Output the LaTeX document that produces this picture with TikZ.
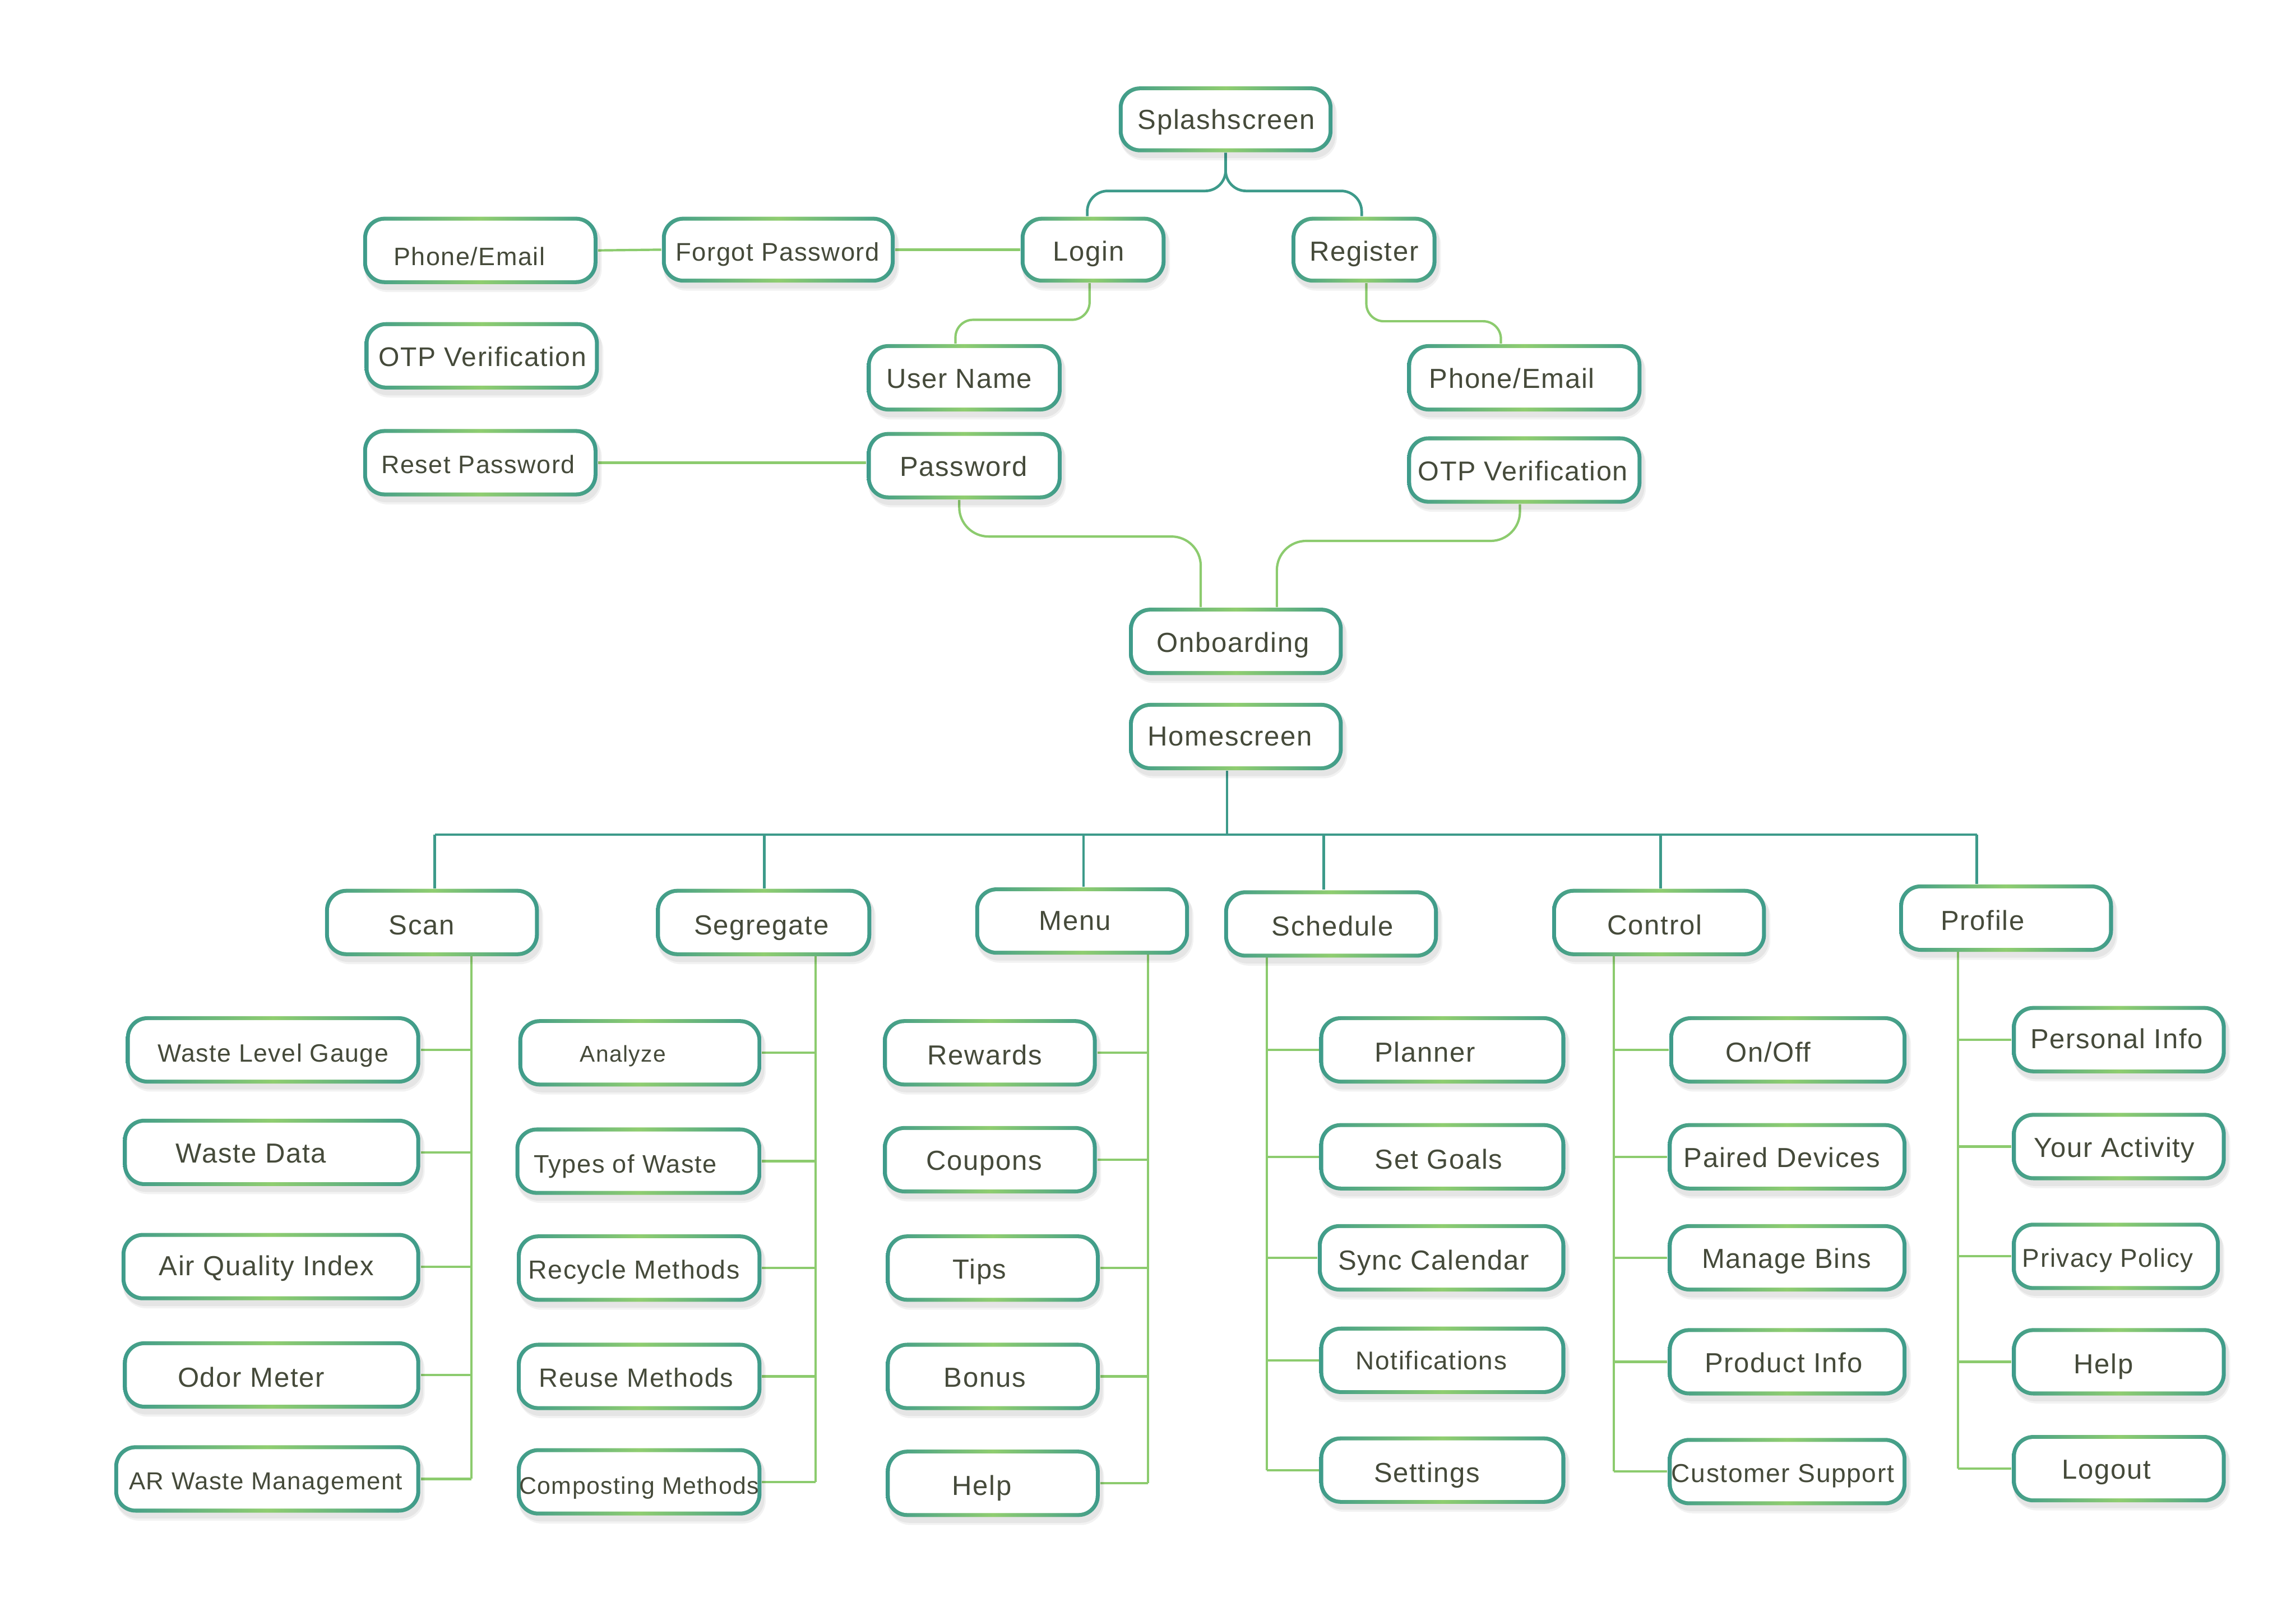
\documentclass[tikz,border=0pt]{standalone}
\usepackage{fontspec}
\setmainfont{Liberation Sans}[LetterSpace=3.4]
\usetikzlibrary{fit,calc}
\definecolor{cteal}{HTML}{3E9B8B}
\definecolor{cgreen}{HTML}{8FCD70}
\definecolor{lteal}{HTML}{3D9A8A}
\definecolor{lgreen}{HTML}{8CCB6E}
\definecolor{txt}{HTML}{454A3A}
\pgfdeclarelayer{back}
\pgfdeclarelayer{bg}
\pgfsetlayers{back,bg,main}
\tikzset{
  lbl/.style={inner sep=0pt, text=txt, text height=0.72em, text depth=0pt},
  tline/.style={draw=lteal, line width=0.9pt},
  gline/.style={draw=lgreen, line width=0.8pt},
}
% name, x1, y1, x2, y2, text x, text y, font size, text
\newcommand\bx[9]{%
  \fill[black, opacity=.05, rounded corners=8pt] (#2+1,#3+3) rectangle (#4+3,#5+5.5);
  \fill[black, opacity=.05, rounded corners=7.5pt] (#2+1,#3+2) rectangle (#4+2,#5+4);
  \path[left color=cteal, right color=cteal, middle color=cgreen, rounded corners=7.3pt] (#2,#3) rectangle (#4,#5);
  \fill[white, rounded corners=6pt] (#2+2.7,#3+2.7) rectangle (#4-2.7,#5-2.7);
  \node[fit={(#2,#3)(#4,#5)}, inner sep=0pt] (#1) {};
  \node[lbl, font=\fontsize{#8}{#8}\selectfont] (#1-t) at (#6,#7) {#9};
}
\begin{document}
\begin{tikzpicture}[x=0.5pt,y=-0.5pt]
\begin{pgfonlayer}{back}
\fill[white] (0,0) rectangle (1568,1094);
\end{pgfonlayer}
\useasboundingbox (0,0) rectangle (1568,1094);

% top part
\bx{splash}{764}{59}{910}{104}{837.5}{81}{9.4}{Splashscreen}
\bx{login}{697}{148}{796}{193}{743.5}{171}{9.4}{Login}
\bx{register}{882}{148}{981}{193}{931.5}{171}{9.4}{Register}
\bx{forgot}{452}{148}{611}{193}{531}{171}{8.7}{Forgot Password}
\bx{phoneL}{248}{148}{408}{194}{320.5}{174}{8.6}{Phone/Email}
\bx{otpL}{249}{220}{409}{266}{329.5}{243}{9.2}{OTP Verification}
\bx{reset}{248}{293}{408}{339}{326.5}{316}{8.6}{Reset Password}
\bx{user}{592}{235}{725}{281}{655}{258}{9.4}{User Name}
\bx{pass}{592}{295}{725}{341}{658}{318}{9.4}{Password}
\bx{phoneR}{961}{235}{1121}{281}{1032.5}{258}{9.4}{Phone/Email}
\bx{otpR}{961}{298}{1121}{344}{1040}{321}{9.3}{OTP Verification}
\bx{onb}{771}{415}{917}{461}{842}{438}{9.4}{Onboarding}
\bx{home}{771}{480}{917}{526}{840}{502}{9.4}{Homescreen}

% level 2
\bx{scan}{222}{607}{368}{653}{288}{631}{9.4}{Scan}
\bx{seg}{448}{607}{595}{653}{520}{631}{9.4}{Segregate}
\bx{menu}{666}{606}{812}{652}{734}{628}{9.4}{Menu}
\bx{sched}{836}{608}{982}{654}{910}{632}{9.4}{Schedule}
\bx{ctrl}{1060}{607}{1206}{653}{1130}{631}{9.4}{Control}
\bx{prof}{1297}{604}{1443}{650}{1354}{628}{9.4}{Profile}

% scan children
\bx{wlg}{86}{694}{287}{740}{186.5}{718}{8.55}{Waste Level Gauge}
\bx{wd}{84}{764}{287}{810}{171.5}{787}{9.4}{Waste Data}
\bx{aqi}{83}{842}{287}{888}{182}{864}{9.4}{Air Quality Index}
\bx{odor}{84}{916}{287}{962}{171.5}{940}{9.4}{Odor Meter}
\bx{arw}{78}{987}{287}{1033}{181.5}{1010}{8.4}{AR Waste Management}

% segregate children
\bx{ana}{354}{696}{520}{742}{425.5}{718}{7.8}{Analyze}
\bx{tow}{352}{770}{520}{816}{427}{794}{8.65}{Types of Waste}
\bx{rec}{353}{843}{520}{889}{433}{866}{8.9}{Recycle Methods}
\bx{reu}{353}{917}{520}{963}{434.5}{940}{9.0}{Reuse Methods}
\bx{comp}{353}{989}{520}{1035}{436.5}{1013}{8.2}{Composting Methods}

% menu children
\bx{rew}{603}{696}{749}{742}{672.5}{720}{9.4}{Rewards}
\bx{coup}{603}{769}{749}{815}{672}{792}{9.4}{Coupons}
\bx{tips}{605}{843}{751}{889}{669}{866}{9.4}{Tips}
\bx{bonus}{605}{917}{751}{963}{672.5}{940}{9.4}{Bonus}
\bx{helpM}{605}{990}{751}{1036}{670.5}{1014}{9.4}{Help}

% schedule children
\bx{plan}{901}{694}{1069}{740}{973}{718}{9.4}{Planner}
\bx{goals}{901}{767}{1069}{813}{982.5}{791}{9.4}{Set Goals}
\bx{sync}{900}{836}{1069}{882}{979}{860}{9.4}{Sync Calendar}
\bx{notif}{901}{906}{1069}{952}{977.5}{928}{8.8}{Notifications}
\bx{sett}{901}{981}{1069}{1027}{974.5}{1005}{9.4}{Settings}

% control children
\bx{onoff}{1140}{694}{1302}{740}{1207.5}{718}{9.4}{On/Off}
\bx{paired}{1139}{767}{1302}{813}{1217}{790}{9.4}{Paired Devices}
\bx{bins}{1139}{836}{1302}{882}{1220}{859}{9.4}{Manage Bins}
\bx{prod}{1139}{907}{1302}{953}{1218}{930}{9.4}{Product Info}
\bx{cust}{1139}{982}{1302}{1028}{1217.5}{1005}{8.85}{Customer Support}

% profile children
\bx{pinfo}{1374}{687}{1520}{733}{1445.5}{709}{9.4}{Personal Info}
\bx{act}{1374}{760}{1520}{806}{1444}{783}{9.4}{Your Activity}
\bx{priv}{1374}{835}{1516}{881}{1439.5}{858}{8.8}{Privacy Policy}
\bx{helpP}{1374}{907}{1520}{953}{1436.5}{931}{9.4}{Help}
\bx{logout}{1374}{980}{1520}{1026}{1438.5}{1003}{9.4}{Logout}

\begin{pgfonlayer}{bg}
% top connectors
\draw[tline, rounded corners=7pt] (splash.south) -- ++(0,26) -| ([xshift=-2pt]login.north);
\draw[tline, rounded corners=7pt] (splash.south) -- ++(0,26) -| ([xshift=-0.8pt]register.north);
\draw[gline, rounded corners=6pt] ([xshift=-1.2pt]login.south) -- ++(0,25) -| ([xshift=-3pt]user.north);
\draw[gline, rounded corners=6pt] ([xshift=0.8pt]register.south) -- ++(0,26) -| ([xshift=-8pt]phoneR.north);
\draw[gline, rounded corners=10pt] ([xshift=-1.7pt]pass.south) -- ++(0,25) -| ([xshift=-12pt]onb.north);
\draw[gline, rounded corners=10pt] ([xshift=-1.5pt]otpR.south) -- ++(0,25) -| ([xshift=14pt]onb.north);
\draw[gline] (phoneL.east) -- (forgot.west);
\draw[gline] (forgot.east) -- (login.west);
\draw[gline] (reset.east) -- (reset.east -| pass.west);

% homescreen tree
\coordinate (bus) at (838,570);
\coordinate (dScan) at (297,570);
\coordinate (dSeg) at (522,570);
\coordinate (dMenu) at (740,570);
\coordinate (dSched) at (904,570);
\coordinate (dCtrl) at (1134,570);
\coordinate (dProf) at (1350,570);
\draw[tline] (home.south -| bus) -- (bus);
\draw[tline] (dScan) -- (dProf);
\draw[tline] (dScan) -- (dScan |- scan.north);
\draw[tline] (dSeg) -- (dSeg |- seg.north);
\draw[tline] (dMenu) -- (dMenu |- menu.north);
\draw[tline] (dSched) -- (dSched |- sched.north);
\draw[tline] (dCtrl) -- (dCtrl |- ctrl.north);
\draw[tline] (dProf) -- (dProf |- prof.north);

% child branches
\coordinate (vScan) at (322,653);
\coordinate (vSeg) at (557,653);
\coordinate (vMenu) at (784,652);
\coordinate (vSched) at (865,654);
\coordinate (vCtrl) at (1102,653);
\coordinate (vProf) at (1337,650);
\draw[gline] (vScan) -- (vScan |- arw.east);
\foreach \c in {wlg,wd,aqi,odor,arw} \draw[gline] (\c.east) -- (\c.east -| vScan);
\draw[gline] (vSeg) -- (vSeg |- comp.east);
\foreach \c in {ana,tow,rec,reu,comp} \draw[gline] (\c.east) -- (\c.east -| vSeg);
\draw[gline] (vMenu) -- (vMenu |- helpM.east);
\foreach \c in {rew,coup,tips,bonus,helpM} \draw[gline] (\c.east) -- (\c.east -| vMenu);
\draw[gline] (vSched) -- (vSched |- sett.west);
\foreach \c in {plan,goals,sync,notif,sett} \draw[gline] (\c.west) -- (\c.west -| vSched);
\draw[gline] (vCtrl) -- (vCtrl |- cust.west);
\foreach \c in {onoff,paired,bins,prod,cust} \draw[gline] (\c.west) -- (\c.west -| vCtrl);
\draw[gline] (vProf) -- (vProf |- logout.west);
\foreach \c in {pinfo,act,priv,helpP,logout} \draw[gline] (\c.west) -- (\c.west -| vProf);
\end{pgfonlayer}
\end{tikzpicture}
\end{document}
